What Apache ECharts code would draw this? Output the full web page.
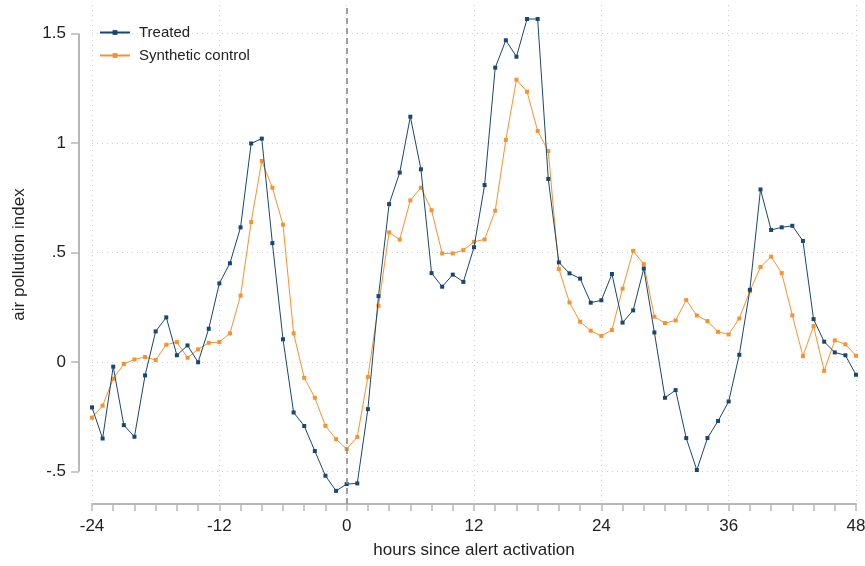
<!DOCTYPE html>
<html>
<head>
<meta charset="utf-8">
<script src="https://cdn.jsdelivr.net/npm/echarts@6/dist/echarts.min.js"></script>
<style>
html,body{margin:0;padding:0;background:#fff;}
#chart{width:865px;height:566px;}
</style>
</head>
<body>
<div id="chart"></div>
<script>
var hours = [];
for (var h = -24; h <= 48; h++) hours.push(h);

var treated = [
  -0.207, -0.349, -0.021, -0.288, -0.341, -0.061, 0.140, 0.204, 0.031, 0.076, -0.001, 0.152,
  0.359, 0.451, 0.615, 0.998, 1.020, 0.543, 0.104, -0.230, -0.292, -0.406, -0.519, -0.588,
  -0.557, -0.554, -0.215, 0.301, 0.721, 0.865, 1.120, 0.880, 0.406, 0.344, 0.399, 0.366,
  0.524, 0.808, 1.344, 1.469, 1.394, 1.566, 1.566, 0.836, 0.455, 0.405, 0.381, 0.271,
  0.282, 0.402, 0.180, 0.236, 0.427, 0.135, -0.163, -0.128, -0.347, -0.493, -0.347, -0.269,
  -0.180, 0.033, 0.330, 0.788, 0.603, 0.615, 0.622, 0.553, 0.196, 0.093, 0.044, 0.031,
  -0.058
];
var synthetic = [
  -0.254, -0.199, -0.076, -0.009, 0.012, 0.023, 0.009, 0.079, 0.091, 0.020, 0.058, 0.088,
  0.091, 0.131, 0.303, 0.639, 0.918, 0.796, 0.627, 0.131, -0.072, -0.163, -0.291, -0.352,
  -0.397, -0.342, -0.068, 0.257, 0.592, 0.559, 0.738, 0.796, 0.693, 0.496, 0.496, 0.511,
  0.549, 0.560, 0.691, 1.014, 1.289, 1.234, 1.055, 0.963, 0.425, 0.272, 0.184, 0.143,
  0.119, 0.146, 0.335, 0.508, 0.447, 0.207, 0.178, 0.190, 0.283, 0.213, 0.187, 0.138,
  0.126, 0.199, 0.324, 0.434, 0.481, 0.406, 0.213, 0.027, 0.164, -0.040, 0.099, 0.081,
  0.029
];
var yTicks = [-0.5, 0, 0.5, 1, 1.5];
var yTickLabels = ['-.5', '0', '.5', '1', '1.5'];

function pairs(arr) { return hours.map(function (h, i) { return [h, arr[i]]; }); }

var chart = echarts.init(document.getElementById('chart'), null, {renderer: 'canvas'});
var font = 'Liberation Sans, Arial, sans-serif';
var option = {
  animation: false,
  backgroundColor: '#ffffff',
  textStyle: {fontFamily: font},
  grid: {left: 92, right: 9, top: 5, bottom: 62, containLabel: false, outerBoundsMode: 'none'},
  legend: {
    left: 94, top: 20, orient: 'vertical', itemGap: 8,
    itemWidth: 30, itemHeight: 6,
    textStyle: {fontFamily: font, fontSize: 15, color: '#222', padding: [0, 0, 0, 4]},
    data: ['Treated', 'Synthetic control']
  },
  xAxis: {
    type: 'value', min: -24, max: 48, interval: 12,
    name: 'hours since alert activation', nameLocation: 'middle', nameGap: 38,
    nameTextStyle: {fontFamily: font, fontSize: 17, color: '#222'},
    axisLine: {show: true, onZero: false, lineStyle: {color: '#b8b8b8', width: 2}},
    axisTick: {show: true, length: 7, lineStyle: {color: '#b8b8b8', width: 1.5}},
    minorTick: {show: true, splitNumber: 6, length: 7, lineStyle: {color: '#b8b8b8', width: 1.5}},
    axisLabel: {fontFamily: font, fontSize: 17, color: '#222', margin: 14},
    splitLine: {show: true, lineStyle: {color: '#d0d0d0', type: [1, 4], width: 1}}
  },
  yAxis: {
    type: 'value', min: -0.648, max: 1.630, offset: 13,
    name: 'air pollution index', nameLocation: 'middle', nameGap: 51,
    nameTextStyle: {fontFamily: font, fontSize: 17, color: '#222'},
    axisLine: {show: false, onZero: false},
    axisTick: {show: true, length: 8, customValues: yTicks, lineStyle: {color: '#b8b8b8', width: 1.5}},
    axisLabel: {
      fontFamily: font, fontSize: 17, color: '#222', margin: 13,
      customValues: yTicks,
      formatter: function (v) {
        for (var i = 0; i < yTicks.length; i++) if (Math.abs(yTicks[i] - v) < 1e-9) return yTickLabels[i];
        return '';
      }
    },
    splitLine: {show: true, lineStyle: {color: '#d0d0d0', type: [1, 4], width: 1}}
  },
  series: [
    {
      name: 'Treated', type: 'line', data: pairs(treated),
      symbol: 'rect', symbolSize: 4, showSymbol: true,
      lineStyle: {color: '#1a476f', width: 1},
      itemStyle: {color: '#1a476f'},
      z: 3,
      markLine: {
        silent: true, symbol: 'none', label: {show: false},
        lineStyle: {color: '#8a8a8a', type: [6, 4], width: 1.6},
        data: [{xAxis: 0}]
      }
    },
    {
      name: 'Synthetic control', type: 'line', data: pairs(synthetic),
      symbol: 'rect', symbolSize: 4, showSymbol: true,
      lineStyle: {color: '#f7922e', width: 1},
      itemStyle: {color: '#f7922e'},
      z: 2
    }
  ]
};
chart.setOption(option);

// partial y axis line spanning the labelled range, placed via the chart's own scale
var yTop = chart.convertToPixel({yAxisIndex: 0}, yTicks[yTicks.length - 1]);
var yBot = chart.convertToPixel({yAxisIndex: 0}, yTicks[0]);
var xLeft = chart.convertToPixel({xAxisIndex: 0}, -24) - 13;
chart.setOption({
  graphic: [{
    type: 'line', silent: true,
    shape: {x1: xLeft, y1: yTop, x2: xLeft, y2: yBot},
    style: {stroke: '#b8b8b8', lineWidth: 2}
  }]
});
</script>
</body>
</html>
